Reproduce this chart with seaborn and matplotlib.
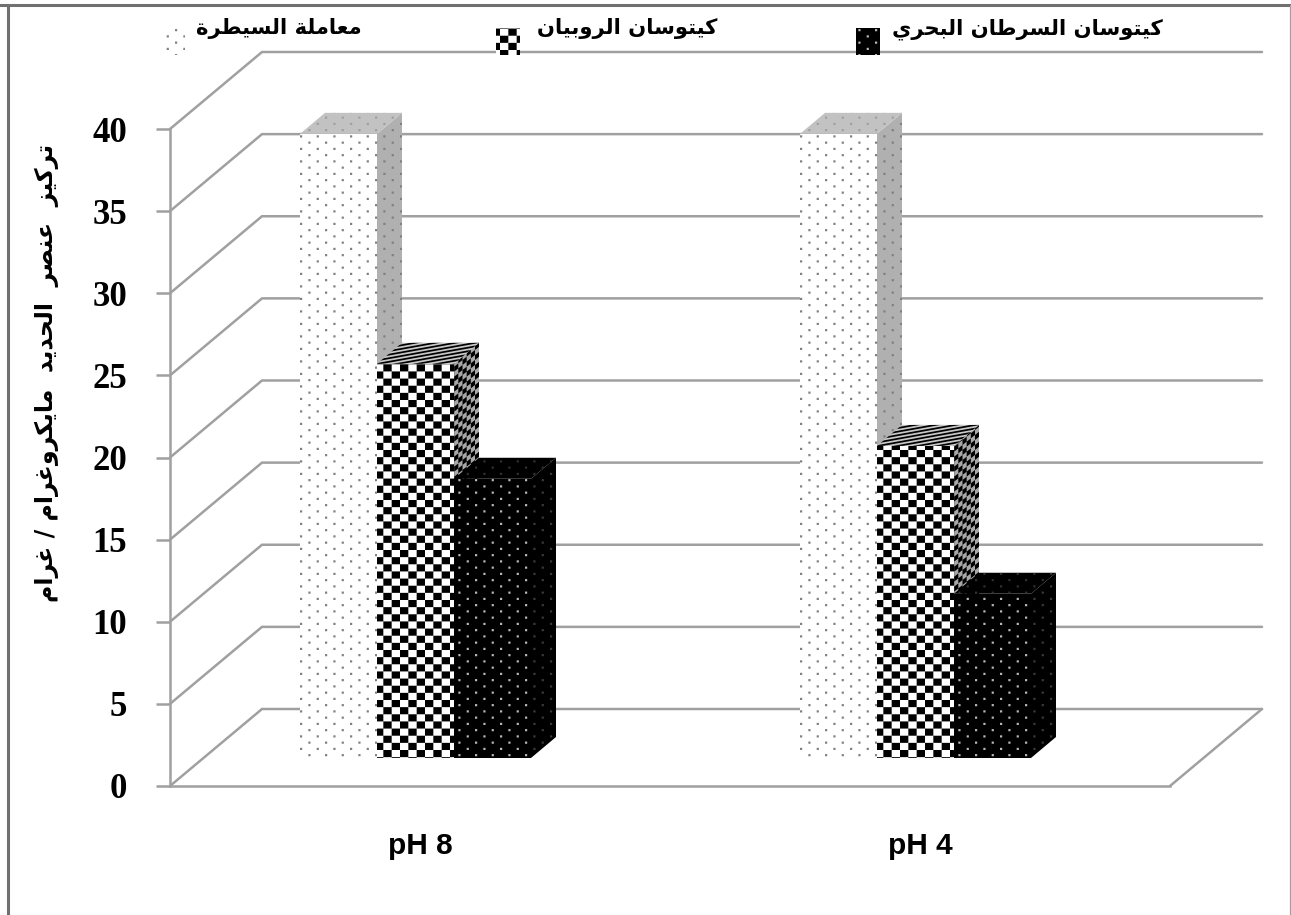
import warnings
import numpy as np
import pandas as pd
import matplotlib
matplotlib.use("Agg")
import matplotlib.pyplot as plt
import matplotlib.hatch as mhatch
from matplotlib.lines import Line2D
from matplotlib.path import Path
from matplotlib.patches import Polygon
import seaborn as sns

warnings.filterwarnings("ignore")

# ---- data ----
categories = ["pH 8", "pH 4"]
series_names = ["معاملة السيطرة", "كيتوسان الروبيان", "كيتوسان السرطان البحري"]
control_values = [38, 38]
shrimp_values = [24, 19]
crab_values = [17, 10]
y_ticks = [0, 5, 10, 15, 20, 25, 30, 35, 40]
y_title = "تركيز  عنصر  الحديد  مايكروغرام / غرام"

# ---- Arabic shaping (matplotlib draws glyphs left to right, unshaped) ----
FORMS = {
    "ا": (0xFE8D, 0xFE8E), "ة": (0xFE93, 0xFE94), "د": (0xFEA9, 0xFEAA),
    "ر": (0xFEAD, 0xFEAE), "ز": (0xFEAF, 0xFEB0), "و": (0xFEED, 0xFEEE),
    "ب": (0xFE8F, 0xFE90, 0xFE91, 0xFE92), "ت": (0xFE95, 0xFE96, 0xFE97, 0xFE98),
    "ح": (0xFEA1, 0xFEA2, 0xFEA3, 0xFEA4), "س": (0xFEB1, 0xFEB2, 0xFEB3, 0xFEB4),
    "ص": (0xFEB9, 0xFEBA, 0xFEBB, 0xFEBC), "ط": (0xFEC1, 0xFEC2, 0xFEC3, 0xFEC4),
    "ع": (0xFEC9, 0xFECA, 0xFECB, 0xFECC), "غ": (0xFECD, 0xFECE, 0xFECF, 0xFED0),
    "ك": (0xFED9, 0xFEDA, 0xFEDB, 0xFEDC), "ل": (0xFEDD, 0xFEDE, 0xFEDF, 0xFEE0),
    "م": (0xFEE1, 0xFEE2, 0xFEE3, 0xFEE4), "ن": (0xFEE5, 0xFEE6, 0xFEE7, 0xFEE8),
    "ي": (0xFEF1, 0xFEF2, 0xFEF3, 0xFEF4),
}


def visual(s):
    out = []
    for i, c in enumerate(s):
        f = FORMS.get(c)
        if f is None:
            out.append(c)
            continue
        prev = s[i - 1] if i else ""
        nxt = s[i + 1] if i + 1 < len(s) else ""
        joins_prev = prev in FORMS and len(FORMS[prev]) == 4
        joins_next = nxt in FORMS and len(f) == 4
        if joins_prev and joins_next:
            g = f[3]
        elif joins_prev:
            g = f[1]
        elif joins_next:
            g = f[2]
        else:
            g = f[0]
        out.append(chr(g))
    return "".join(reversed(out))


# ---- custom textures registered as hatches (tile = 100 px at dpi 100) ----
def rect(x, y, w, h):
    return [(x, y), (x + w, y), (x + w, y + h), (x, y + h)]


def checker(nx=12, ny=14):
    return [rect(i / nx, j / ny, 1 / nx, 1 / ny)
            for i in range(nx) for j in range(ny) if (i + j) % 2 == 0]


def dots(nx=6, ny=16, size=0.022):
    out = []
    for j in range(ny):
        off = 0.5 / nx if j % 2 else 0
        for i in range(nx):
            out.append(rect(i / nx + off, j / ny, size, size))
    return out


def stripes(n=28, rise=5 / 28):
    out = []
    for j in range(n):
        for ghost in (-1, 0):
            y = j / n + ghost
            t = 0.5 / n
            out.append([(0, y), (1, y + rise), (1, y + rise + t), (0, y + t)])
    return out


def sheared(nx=24, ny=20, rise=16 / 20):
    out = []
    for i in range(nx):
        for j in range(-ny, ny * 2):
            if (i + j) % 2 == 0:
                x0, x1 = i / nx, (i + 1) / nx
                y0 = j / ny + rise * x0
                y1 = j / ny + rise * x1
                t = 1 / ny
                out.append([(x0, y0), (x1, y1), (x1, y1 + t), (x0, y0 + t)])
    return out


TEXTURES = {"C": checker(), "D": dots(), "S": stripes(), "V": sheared()}


class TextureHatch(mhatch.HatchPatternBase):
    def __init__(self, hatch, density):
        self.polys = [p for ch in hatch for p in TEXTURES.get(ch, [])]
        self.num_vertices = 5 * len(self.polys)

    def set_vertices_and_codes(self, vertices, codes):
        for k, poly in enumerate(self.polys):
            vertices[k * 5:k * 5 + 4] = poly
            vertices[k * 5 + 4] = poly[0]
            codes[k * 5] = Path.MOVETO
            codes[k * 5 + 1:k * 5 + 4] = Path.LINETO
            codes[k * 5 + 4] = Path.CLOSEPOLY


mhatch._hatch_types.append(TextureHatch)

# ---- figure ----
W, H = 1291, 915
GRID = "#a0a0a0"
sns.set_theme(style="white")
plt.rcParams["font.family"] = ["DejaVu Sans"]
plt.rcParams["hatch.linewidth"] = 0.0

fig = plt.figure(figsize=(W / 100, H / 100), dpi=100, facecolor="white")


def box(left, right, bottom_y, top_y):
    return [left / W, 1 - bottom_y / H, (right - left) / W, (bottom_y - top_y) / H]


ax = fig.add_axes(box(170, 1170, 786, 129))
ax.set_xlim(-0.5, 1.5)
ax.set_ylim(0, 40)
ax.patch.set_alpha(0)
px_x = 1 / 500
px_y = 40 / 657

# walls and floor
lw = 1.8
wall_dx, wall_dy = 92 * px_x, 77 * px_y
x_l, x_r = -0.5, 1.5
for v in y_ticks:
    ax.plot([x_l, x_l + wall_dx, x_r + wall_dx], [v, v + wall_dy, v + wall_dy],
            color=GRID, lw=lw, clip_on=False, solid_joinstyle="miter", zorder=1)
ax.plot([x_r, x_r + wall_dx], [0, wall_dy], color=GRID, lw=lw, clip_on=False, zorder=1)
for name in ("top", "right"):
    ax.spines[name].set_visible(False)
for name in ("left", "bottom"):
    ax.spines[name].set_color(GRID)
    ax.spines[name].set_linewidth(lw)
ax.set_yticks(y_ticks)
ax.set_yticklabels([str(v) for v in y_ticks], family="Liberation Serif",
                   weight="bold", fontsize=25, color="black")
ax.set_xticks([0, 1])
ax.set_xticklabels(categories, family="Liberation Sans", weight="bold",
                   fontsize=21.5, color="black")
ax.tick_params(axis="y", length=10, width=lw, color=GRID, left=True, pad=21)
ax.tick_params(axis="x", length=0, pad=33)

# bars, on an axes shifted to the mid-depth of the floor
bx = fig.add_axes(box(165.5, 1165.5, 758, 101))
bx.patch.set_alpha(0)
df = pd.DataFrame({
    "pH": categories * 3,
    "series": [n for n in series_names for _ in categories],
    "value": control_values + shrimp_values + crab_values,
})
sns.barplot(data=df, x="pH", y="value", hue="series", order=categories,
            hue_order=series_names, palette=["white", "white", "black"],
            width=0.462, gap=0, saturation=1, legend=False, ax=bx)
bx.set_xlim(-0.5, 1.5)
bx.set_ylim(0, 40)
bx.set_axis_off()

front = [("D", "#808080"), ("C", "black"), ("D", "#b8b8b8")]
side = [("#b0b0b0", "D", "#808080"), ("#a8a8a8", "V", "black"), ("black", "D", "#3a3a3a")]
top = [("#c2c2c2", "D", "#a0a0a0"), ("#c8c8c8", "S", "black"), ("black", "D", "#303030")]
depth_x, depth_y = 25 * px_x, 21 * px_y
z = 3
for cat in range(len(categories)):
    for s, cont in enumerate(bx.containers):
        p = cont.patches[cat]
        x0, w, h = p.get_x(), p.get_width(), p.get_height()
        p.set_hatch(front[s][0])
        p.set_edgecolor(front[s][1])
        p.set_linewidth(0)
        sf, sh, se = side[s]
        tf, th, te = top[s]
        bx.add_patch(Polygon([(x0 + w, 0), (x0 + w + depth_x, depth_y),
                              (x0 + w + depth_x, h + depth_y), (x0 + w, h)],
                             facecolor=sf, edgecolor=se, hatch=sh, lw=0,
                             clip_on=False, zorder=z))
        bx.add_patch(Polygon([(x0, h), (x0 + w, h), (x0 + w + depth_x, h + depth_y),
                              (x0 + depth_x, h + depth_y)],
                             facecolor=tf, edgecolor=te, hatch=th, lw=0,
                             clip_on=False, zorder=z))
        p.set_zorder(z + 0.5)
        p.set_clip_on(False)
        z += 1

# legend: swatches hang below the text, as in the reference
fs_pt = 15.2
fs_px = fs_pt * 100 / 72
leg = bx.legend(bx.containers[:3], [visual(n) for n in series_names], ncol=3,
                loc="lower left", bbox_to_anchor=(161 / W, 1 - 40 / H),
                bbox_transform=fig.transFigure, frameon=False,
                prop={"family": "DejaVu Sans", "weight": "bold", "size": fs_pt},
                handlelength=24 / fs_px, handleheight=24 / fs_px,
                handletextpad=11 / fs_px, columnspacing=140 / fs_px,
                borderpad=0, borderaxespad=0)
for t in leg.get_texts():
    t.set_color("black")
for h_, nudge in zip(leg.legend_handles, (0, -6, -1)):
    h_.set_height(27 * 0.72)
    h_.set_y(h_.get_y() - 17 * 0.72)
    h_.set_x(h_.get_x() + nudge * 0.72)

# y title
fig.text(47 / W, 1 - 373 / H, visual(y_title), rotation=90, ha="center", va="center",
         family="DejaVu Sans", weight="bold", fontsize=17, color="black")

# picture frame
for xs, ys, c, w_ in [((0, 1), (1 - 5 / H, 1 - 5 / H), "#707070", 2.2),
                      ((8 / W, 8 / W), (0, 1 - 5 / H), "#707070", 2.2),
                      ((1290 / W, 1290 / W), (0, 1 - 5 / H), "#a0a0a0", 0.9)]:
    fig.add_artist(Line2D(xs, ys, transform=fig.transFigure, color=c, lw=w_))

fig.savefig("out.png", dpi=100, facecolor="white")
